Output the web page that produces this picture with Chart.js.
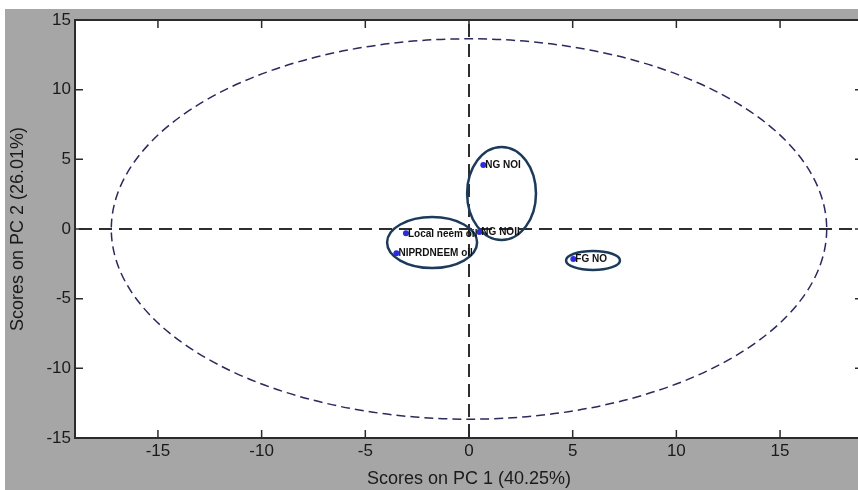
<!DOCTYPE html>
<html>
<head>
<meta charset="utf-8">
<script src="https://cdn.jsdelivr.net/npm/chart.js@4.4.1/dist/chart.umd.min.js"></script>
<style>
  html, body { margin: 0; padding: 0; overflow: hidden; background: #fff; }
  canvas { display: block; }
</style>
</head>
<body>
<canvas id="pca-chart" width="870" height="490"></canvas>
<script>
// sample names and their PCA scores
const sampleNames = ["Local neem oil", "NIPRDNEEM oil", "NG NOI", "NG NOII", "FG NO"];
const pc1Scores = [-3.04, -3.50, 0.69, 0.50, 5.03];
const pc2Scores = [-0.31, -1.74, 4.59, -0.22, -2.15];

// grouping ellipses round the clusters (data units)
const groupCenterX = [-1.78, 1.57, 5.98];
const groupCenterY = [-0.97, 2.55, -2.26];
const groupRadiusX = [2.17, 1.66, 1.30];
const groupRadiusY = [1.83, 3.34, 0.68];

// confidence ellipse
const confCenter = [0, 0];
const confRadius = [17.25, 13.65];

// axes
const xTicks = [-15, -10, -5, 0, 5, 10, 15];
const yTicks = [-15, -10, -5, 0, 5, 10, 15];
const xRange = [-19, 19];
const yRange = [-15, 15];

const FONT = "'Liberation Sans', Arial, sans-serif";

function ellipseAt(ctx, x, y, cx, cy, rx, ry) {
    const px = x.getPixelForValue(cx);
    const py = y.getPixelForValue(cy);
    const prx = Math.abs(x.getPixelForValue(cx + rx) - px);
    const pry = Math.abs(y.getPixelForValue(cy + ry) - py);
    ctx.beginPath();
    ctx.ellipse(px, py, prx, pry, 0, 0, Math.PI * 2);
    ctx.stroke();
}

const pcaDecor = {
    id: "pcaDecor",
    beforeDraw(chart) {
        const { ctx, chartArea: a } = chart;
        ctx.save();
        ctx.fillStyle = "#ffffff";
        ctx.fillRect(0, 0, chart.width, chart.height);
        ctx.fillStyle = "#a6a6a6";
        ctx.fillRect(5, 9, chart.width - 5, chart.height - 9);
        ctx.fillStyle = "#ffffff";
        ctx.fillRect(a.left, a.top, a.right - a.left, a.bottom - a.top);
        ctx.restore();
    },
    beforeDatasetsDraw(chart) {
        const { ctx, chartArea: a, scales: { x, y } } = chart;
        ctx.save();
        ctx.beginPath();
        ctx.rect(a.left, a.top, a.right - a.left, a.bottom - a.top);
        ctx.clip();

        // dashed zero lines
        ctx.strokeStyle = "#2e2e2e";
        ctx.lineWidth = 2;
        ctx.setLineDash([13, 7]);
        const y0 = y.getPixelForValue(0);
        const x0 = x.getPixelForValue(0);
        ctx.beginPath();
        ctx.moveTo(a.left + 4, y0);
        ctx.lineTo(a.right, y0);
        ctx.moveTo(x0, a.top + 4);
        ctx.lineTo(x0, a.bottom);
        ctx.stroke();

        // confidence ellipse
        ctx.strokeStyle = "#2a2a5c";
        ctx.lineWidth = 1.5;
        ctx.setLineDash([9, 5]);
        ellipseAt(ctx, x, y, confCenter[0], confCenter[1], confRadius[0], confRadius[1]);

        // group ellipses
        ctx.setLineDash([]);
        ctx.strokeStyle = "#1d3a5a";
        ctx.lineWidth = 2.5;
        for (let i = 0; i < groupCenterX.length; i++) {
            ellipseAt(ctx, x, y, groupCenterX[i], groupCenterY[i], groupRadiusX[i], groupRadiusY[i]);
        }
        ctx.restore();
    },
    afterDatasetsDraw(chart) {
        const { ctx, scales: { x, y } } = chart;
        ctx.save();
        ctx.fillStyle = "#111111";
        ctx.font = "bold 10px " + FONT;
        ctx.textBaseline = "middle";
        sampleNames.forEach((name, i) => {
            ctx.fillText(name, x.getPixelForValue(pc1Scores[i]) + 2, y.getPixelForValue(pc2Scores[i]) + 0.5);
        });
        ctx.restore();
    },
    afterDraw(chart) {
        const { ctx, chartArea: a, scales: { x, y } } = chart;
        const tick = 8;
        ctx.save();
        ctx.strokeStyle = "#2b2b2b";
        ctx.lineWidth = 2;
        ctx.strokeRect(a.left, a.top, a.right - a.left, a.bottom - a.top);
        ctx.lineWidth = 1.5;
        ctx.beginPath();
        xTicks.forEach(v => {
            const px = x.getPixelForValue(v);
            ctx.moveTo(px, a.bottom); ctx.lineTo(px, a.bottom - tick);
            ctx.moveTo(px, a.top); ctx.lineTo(px, a.top + tick);
        });
        yTicks.forEach(v => {
            const py = y.getPixelForValue(v);
            ctx.moveTo(a.left, py); ctx.lineTo(a.left + tick, py);
            ctx.moveTo(a.right, py); ctx.lineTo(a.right - tick, py);
        });
        ctx.stroke();
        ctx.restore();
    }
};

const ctx = document.getElementById("pca-chart").getContext("2d");
const chart = new Chart(ctx, {
    type: "scatter",
    data: {
        datasets: [{
            label: "Samples",
            data: sampleNames.map((_, i) => ({ x: pc1Scores[i], y: pc2Scores[i] })),
            pointRadius: 3,
            pointBackgroundColor: "#2a2ae0",
            pointBorderColor: "#2a2ae0",
            pointBorderWidth: 0
        }]
    },
    options: {
        responsive: false,
        animation: false,
        layout: { padding: { left: 0, top: 20, right: 7, bottom: 0 } },
        plugins: {
            legend: { display: false },
            tooltip: { enabled: false }
        },
        scales: {
            x: {
                type: "linear",
                min: xRange[0],
                max: xRange[1],
                afterBuildTicks: s => { s.ticks = xTicks.map(v => ({ value: v })); },
                afterFit: s => { s.height = 52; },
                grid: { display: false, drawTicks: false },
                border: { display: false },
                ticks: { color: "#1a1a1a", font: { family: FONT, size: 17 }, padding: 3, maxRotation: 0 },
                title: {
                    display: true,
                    text: "Scores on PC 1 (40.25%)",
                    color: "#1a1a1a",
                    font: { family: FONT, size: 18 },
                    padding: { top: 0, bottom: 0 }
                }
            },
            y: {
                type: "linear",
                min: yRange[0],
                max: yRange[1],
                afterBuildTicks: s => { s.ticks = yTicks.map(v => ({ value: v })); },
                afterFit: s => { s.width = 75; },
                grid: { display: false, drawTicks: false },
                border: { display: false },
                ticks: { color: "#1a1a1a", font: { family: FONT, size: 17 }, padding: 4 },
                title: {
                    display: true,
                    text: "Scores on PC 2 (26.01%)",
                    color: "#1a1a1a",
                    font: { family: FONT, size: 18 },
                    padding: { top: 7, bottom: 0 }
                }
            }
        }
    },
    plugins: [pcaDecor]
});
</script>
</body>
</html>
